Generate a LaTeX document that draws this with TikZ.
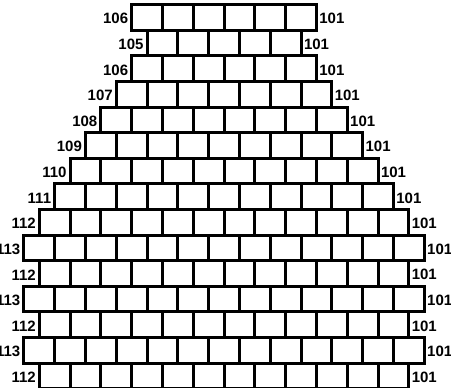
\documentclass[tikz,border=0pt]{standalone}
\usepackage{fontspec}
\setmainfont{Liberation Sans}
\begin{document}
\begin{tikzpicture}[x=1pt,y=-1pt,
  brick/.style={draw=black, line width=3pt, fill=white, inner sep=0pt, outer sep=0pt,
    minimum width=30.8pt, minimum height=25.6pt},
  lab/.style={font=\fontsize{15}{18}\selectfont\bfseries, inner sep=0pt, outer sep=0pt, text=black}]
\useasboundingbox (0,0) rectangle (451,388);
\clip (0,0) rectangle (451,388);
\foreach \n/\lft [count=\r from 0] in {6/106,5/105,6/106,7/107,8/108,9/109,10/110,11/111,12/112,13/113,12/112,13/113,12/112,13/113,12/112} {
  \foreach \k in {1,...,\n} {
    \node[brick] (b-\r-\k) at ({224 - \n*15.4 + (\k-0.5)*30.8}, {4.7 + 25.6*\r + 12.8}) {};
  }
  \node[lab, anchor=east] (L\r) at ([xshift=-3.5pt, yshift=-1.3pt]b-\r-1.west) {\lft};
  \node[lab, anchor=west] (R\r) at ([xshift=3pt, yshift=-1.3pt]b-\r-\n.east) {101};
}
\end{tikzpicture}
\end{document}
